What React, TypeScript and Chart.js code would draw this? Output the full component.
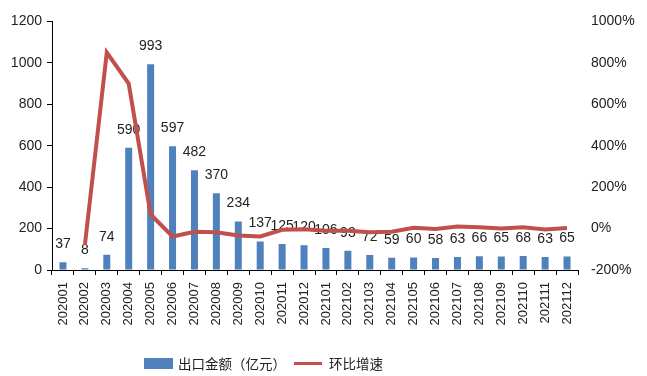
import React, { useEffect, useRef } from "react";
import { Chart, registerables } from "chart.js";

Chart.register(...registerables);

const categories = [
  "202001", "202002", "202003", "202004", "202005", "202006", "202007", "202008",
  "202009", "202010", "202011", "202012", "202101", "202102", "202103", "202104",
  "202105", "202106", "202107", "202108", "202109", "202110", "202111", "202112",
];
const exportValues = [37, 8, 74, 590, 993, 597, 482, 370, 234, 137, 125, 120, 106, 93, 72, 59, 60, 58, 63, 66, 65, 68, 63, 65];
const momGrowth = [null, -80, 850, 700, 68, -38, -15, -18, -33, -38, -6, -3, -11, -11, -18, -15, 4, -2, 10, 6, 0, 6, -5, 3];
const leftTickValues = [0, 200, 400, 600, 800, 1000, 1200];
const rightTickValues = [-200, 0, 200, 400, 600, 800, 1000];

const barLabel = "出口金额（亿元）";
const lineLabel = "环比增速";
const BAR_COLOR = "#4F81BD";
const LINE_COLOR = "#C0504D";
const FONT = "'Liberation Sans', Arial, sans-serif";

const barLabelsPlugin = {
  id: "barLabels",
  afterDatasetDraw(chart: any, args: any) {
    if (args.index !== 1) return;
    const ctx = chart.ctx;
    const meta = chart.getDatasetMeta(1);
    ctx.save();
    ctx.font = `14px ${FONT}`;
    ctx.fillStyle = "#222";
    ctx.textAlign = "center";
    ctx.textBaseline = "middle";
    meta.data.forEach((el: any, i: number) => {
      ctx.fillText(String(exportValues[i]), el.x, el.y - 18);
    });
    ctx.restore();
  },
};

export default function App() {
  const ref = useRef<HTMLCanvasElement | null>(null);
  useEffect(() => {
    if (!ref.current) return;
    const chart = new Chart(ref.current, {
      type: "bar",
      data: {
        labels: categories,
        datasets: [
          {
            type: "line",
            label: lineLabel,
            data: momGrowth as any,
            yAxisID: "y1",
            borderColor: LINE_COLOR,
            backgroundColor: LINE_COLOR,
            borderWidth: 4,
            pointRadius: 0,
            tension: 0,
            order: 0,
          } as any,
          {
            type: "bar",
            label: barLabel,
            data: exportValues,
            yAxisID: "y",
            backgroundColor: BAR_COLOR,
            barPercentage: 0.4,
            categoryPercentage: 0.8,
            order: 1,
          },
        ],
      },
      options: {
        responsive: false,
        animation: false,
        layout: { padding: { top: 16, bottom: 36, left: 0, right: 0 } },
        plugins: { legend: { display: false }, tooltip: { enabled: false } },
        scales: {
          x: {
            type: "category",
            offset: true,
            grid: { display: true, drawOnChartArea: false, drawTicks: true, tickLength: 5, color: "#000", offset: true },
            border: { display: true, color: "#000", width: 1 },
            ticks: { autoSkip: false, maxRotation: 90, minRotation: 90, padding: 7, color: "#222", font: { size: 13, family: FONT } },
            afterFit: (s: any) => { s.height = 70; },
          },
          y: {
            position: "left",
            min: 0,
            max: 1200,
            afterBuildTicks: (s: any) => { s.ticks = leftTickValues.map((v) => ({ value: v })); },
            grid: { display: true, drawOnChartArea: false, drawTicks: true, tickLength: 5, color: "#000" },
            border: { display: true, color: "#000", width: 1 },
            ticks: { padding: 5, color: "#222", font: { size: 14, family: FONT }, callback: (v: any) => String(v) },
            afterFit: (s: any) => { s.width = 52; },
          },
          y1: {
            position: "right",
            min: -200,
            max: 1000,
            afterBuildTicks: (s: any) => { s.ticks = rightTickValues.map((v) => ({ value: v })); },
            grid: { display: false, drawOnChartArea: false, drawTicks: false },
            border: { display: false },
            ticks: { padding: 13, color: "#222", font: { size: 14, family: FONT }, callback: (v: any) => `${v}%` },
            afterFit: (s: any) => { s.width = 69; },
          },
        },
      } as any,
      plugins: [barLabelsPlugin],
    });
    return () => chart.destroy();
  }, []);

  const legendText: React.CSSProperties = {
    fontFamily: "'Noto Sans CJK SC', sans-serif",
    fontSize: 13.5,
    color: "#222",
    lineHeight: "16px",
  };

  return (
    <div style={{ position: "absolute", left: 0, top: 0, width: 647, height: 376, background: "#fff" }}>
      <canvas ref={ref} width={647} height={376} style={{ width: 647, height: 376, display: "block" }} />
      <div style={{ position: "absolute", left: 144, top: 354, display: "flex", alignItems: "center", height: 18 }}>
        <span style={{ display: "inline-block", width: 29, height: 11, background: BAR_COLOR, marginRight: 5 }} />
        <span style={legendText}>{barLabel}</span>
        <span style={{ display: "inline-block", width: 28, height: 3, background: LINE_COLOR, marginLeft: 8, marginRight: 7 }} />
        <span style={legendText}>{lineLabel}</span>
      </div>
    </div>
  );
}
